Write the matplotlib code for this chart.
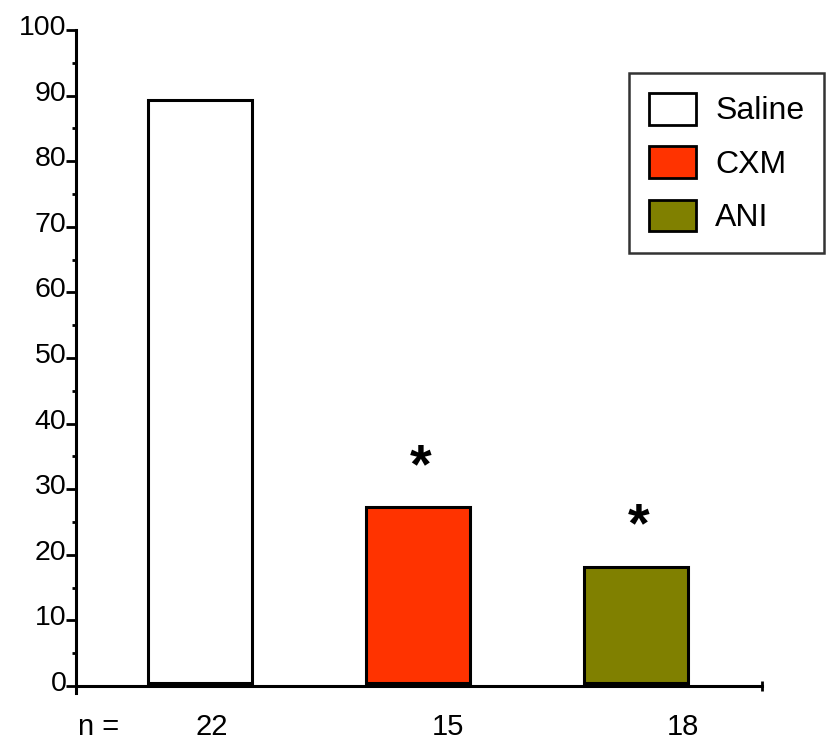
import matplotlib
matplotlib.use("Agg")
import matplotlib.pyplot as plt
from matplotlib.patches import Patch
from matplotlib.transforms import ScaledTranslation

plt.rcParams['font.family'] = ['Liberation Sans', 'DejaVu Sans']

groups = ["Saline", "CXM", "ANI"]
values = [89.4, 27.3, 18.2]
n_counts = ["22", "15", "18"]
colors = ["#FFFFFF", "#FF3300", "#808000"]
significant = [False, True, True]
yticks = [0, 10, 20, 30, 40, 50, 60, 70, 80, 90, 100]

W, H = 829, 741
fig = plt.figure(figsize=(W / 100, H / 100), dpi=100)
ax = fig.add_axes([76 / W, (H - 686) / H, 686 / W, (686 - 30) / H])

xpos = list(range(len(groups)))
base = 0.5
ax.bar(xpos, [v - base for v in values], bottom=base, width=0.475,
       color=colors, edgecolor="black", linewidth=2.2, zorder=3)

ax.set_xlim(-0.569, 2.578)
ax.set_ylim(0, 100)

for s in ["top", "right"]:
    ax.spines[s].set_visible(False)
for s in ["left", "bottom"]:
    ax.spines[s].set_linewidth(2.2)
ax.spines["left"].set_bounds(-1.1, 100)

ax.set_yticks(yticks)
ax.set_yticklabels([str(t) for t in yticks], fontsize=20.5)
ax.set_yticks([t + 5 for t in yticks[:-1]], minor=True)
ax.tick_params(axis="y", which="major", length=7, width=2, pad=0, direction="out")
ax.tick_params(axis="y", which="minor", length=3, width=2, direction="out")
off = ScaledTranslation(0, 5 / 100, fig.dpi_scale_trans)
for lab in ax.get_yticklabels():
    lab.set_transform(lab.get_transform() + off)

ax.set_xticks([2.578])
ax.set_xticklabels([""])
ax.tick_params(axis="x", which="major", length=7, width=2, direction="inout")

for i, (v, sig) in enumerate(zip(values, significant)):
    if sig:
        ax.annotate("*", (i, v), xytext=(2, 28), textcoords="offset points",
                    ha="center", va="center", fontsize=40, fontweight="bold")

ax.text(-0.465, -6.2, "n =", ha="center", va="center", fontsize=21)
for i, n in enumerate(n_counts):
    ax.text(i + 0.055 + 0.08 * i, -6.2, n, ha="center", va="center", fontsize=21)

handles = [Patch(facecolor=c, edgecolor="black", linewidth=2) for c in colors]
leg = fig.legend(handles, groups, loc="upper right",
                 bbox_to_anchor=(824 / W, (H - 73) / H), bbox_transform=fig.transFigure,
                 fontsize=23, frameon=True, fancybox=False, edgecolor="black",
                 handlelength=1.47, handleheight=1.15, handletextpad=0.6,
                 labelspacing=0.62, borderpad=0.62, borderaxespad=0)
leg.get_frame().set_linewidth(1.8)

fig.savefig("out.png", dpi=100)
